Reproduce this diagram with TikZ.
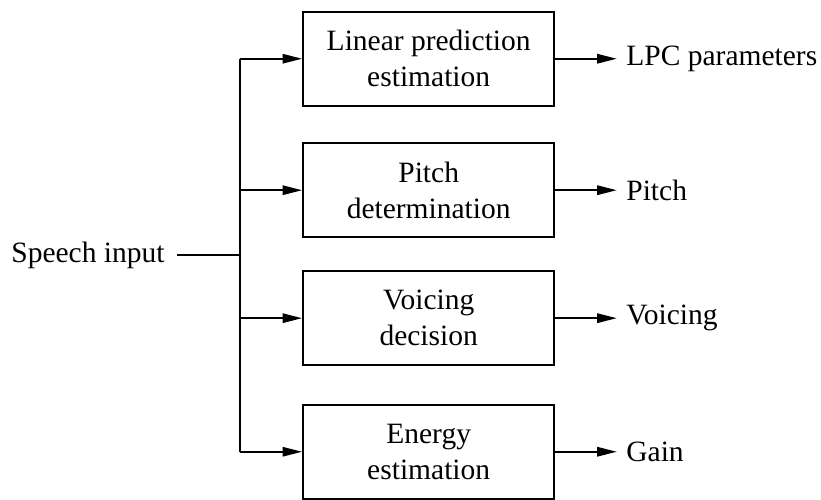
\documentclass[tikz,border=0pt]{standalone}
\usepackage{fontspec}
\setmainfont{Liberation Serif}
\usepackage{tikz}
\usetikzlibrary{arrows.meta, positioning}

\begin{document}
\begin{tikzpicture}[
  font=\fontsize{12pt}{14.6pt}\selectfont,
  block/.style={draw, line width=0.8pt, minimum width=3.59cm, minimum height=1.34cm, align=center, inner sep=2pt},
  edge/.style={-{Triangle[length=8pt, width=3.8pt]}, line width=0.8pt},
  wire/.style={line width=0.8pt},
  outlab/.style={anchor=west, inner sep=0pt}
]
\useasboundingbox (0,0) rectangle (11.74,-7.14);

\node[block] (lpc) at (6.13,-0.84) {Linear prediction\\estimation};
\node[block] (pitch) at (6.13,-2.72) {Pitch\\determination};
\node[block] (voic) at (6.13,-4.55) {Voicing\\decision};
\node[block] (energy) at (6.13,-6.46) {Energy\\estimation};

\node[anchor=east, inner sep=0pt] (speech) at (2.36,-3.65) {Speech input};

% branch points on the bus
\coordinate (bin) at (3.43,-3.65);
\coordinate (b1) at (3.43,-0.84);
\coordinate (b4) at (3.43,-6.46);

\draw[wire] ([xshift=0.17cm]speech.east) -- (bin);
\draw[wire] (b1) -- (b4);
\draw[edge] (b1) -- (lpc.west);
\draw[edge] (b1 |- pitch) -- (pitch.west);
\draw[edge] (b1 |- voic) -- (voic.west);
\draw[edge] (b4) -- (energy.west);

% outputs
\node[outlab] (lpcout) at (8.95,-0.84) {LPC parameters};
\node[outlab] (pitchout) at (8.95,-2.72) {Pitch};
\node[outlab] (voicout) at (8.95,-4.55) {Voicing};
\node[outlab] (gainout) at (8.95,-6.46) {Gain};

\draw[edge] (lpc) -- ([xshift=-0.13cm]lpcout.west);
\draw[edge] (pitch) -- ([xshift=-0.13cm]pitchout.west);
\draw[edge] (voic) -- ([xshift=-0.13cm]voicout.west);
\draw[edge] (energy) -- ([xshift=-0.13cm]gainout.west);
\end{tikzpicture}
\end{document}
